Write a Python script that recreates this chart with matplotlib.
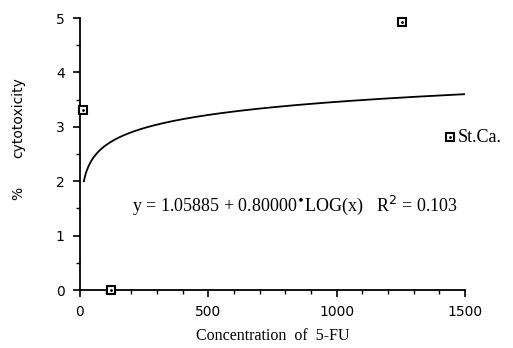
import numpy as np
import matplotlib
matplotlib.use("Agg")
import matplotlib.pyplot as plt
from matplotlib.ticker import MultipleLocator

# data
conc = [12, 121, 1255]
cyto = [3.3, 0.0, 4.93]
fit_intercept = 1.05885
fit_slope = 0.80000
fit_xmin, fit_xmax = 15, 1500
series_label = "St.Ca."
eq_text = "y = 1.05885 + 0.80000$^{\\bullet}$LOG(x)   R$^{2}$ = 0.103"

W, H = 513, 348
fig = plt.figure(figsize=(W/100, H/100), dpi=100)
ax = fig.add_axes([80/W, 1-290/H, 385/W, 272/H])

xf = np.linspace(fit_xmin, fit_xmax, 400)
ax.plot(xf, fit_intercept + fit_slope*np.log10(xf), color="black", lw=1.3)
ax.plot(conc, cyto, ls="none", marker="s", ms=6, mfc="white", mec="black", mew=1.5,
        clip_on=False, zorder=5)
ax.plot(conc, cyto, ls="none", marker=".", ms=2, color="black", clip_on=False, zorder=6)

ax.set_xlim(0, 1500)
ax.set_ylim(0, 5)
ax.xaxis.set_major_locator(MultipleLocator(500))
ax.xaxis.set_minor_locator(MultipleLocator(100))
ax.yaxis.set_major_locator(MultipleLocator(1))
ax.yaxis.set_minor_locator(MultipleLocator(0.5))
for s in ["top", "right"]:
    ax.spines[s].set_visible(False)
for s in ["left", "bottom"]:
    ax.spines[s].set_linewidth(1.3)
ax.tick_params(which="major", direction="out", length=5, width=1.2, labelsize=10, pad=6)
ax.tick_params(which="minor", direction="out", length=3, width=1.0)

ax.set_xlabel("Concentration  of  5-FU", family="Liberation Serif", fontsize=11.5, labelpad=6)

# y-axis label (two parts, as in the original)
fig.text(18/W, 1-118/H, "cytotoxicity", rotation=90, ha="center", va="center",
         family="DejaVu Sans", fontsize=10)
fig.text(18/W, 1-193/H, "%", rotation=90, ha="center", va="center",
         family="DejaVu Sans", fontsize=10)

# regression equation
fig.text(132/W, 1-205/H, eq_text, family="Liberation Serif", fontsize=13,
         ha="left", va="center")

# legend entry
fig.lines.append(plt.Line2D([450/W], [1-137/H], transform=fig.transFigure, ls="none",
                            marker="s", ms=6, mfc="white", mec="black", mew=1.5))
fig.lines.append(plt.Line2D([450/W], [1-137/H], transform=fig.transFigure, ls="none",
                            marker=".", ms=2, color="black"))
fig.text(458/W, 1-137/H, series_label, family="Liberation Serif", fontsize=13,
         ha="left", va="center")

fig.savefig("out.png", dpi=100)
